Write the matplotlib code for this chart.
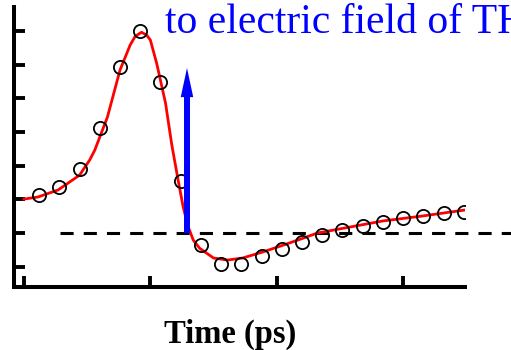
import numpy as np
import matplotlib
matplotlib.use("Agg")
from matplotlib import pyplot as plt

# measured points (time in ps, signal in arb. units)
t_data = [0.12, 0.28, 0.44, 0.60, 0.76, 0.92, 1.08, 1.24, 1.40, 1.56, 1.72,
          1.88, 2.04, 2.20, 2.36, 2.52, 2.68, 2.84, 3.00, 3.16, 3.32, 3.48]
s_data = [1.13, 1.36, 1.90, 3.12, 4.93, 6.00, 4.48, 1.54, -0.36, -0.92, -0.92,
          -0.68, -0.47, -0.27, -0.06, 0.09, 0.21, 0.33, 0.45, 0.50, 0.59, 0.62]

# fitted curve
t_fit = [0.00, 0.11, 0.27, 0.44, 0.52, 0.56, 0.66, 0.76, 0.84, 0.88, 0.93,
         0.97, 1.00, 1.05, 1.12, 1.17, 1.22, 1.26, 1.30, 1.34, 1.39, 1.50,
         1.61, 1.73, 1.89, 2.05, 2.21, 2.32, 2.58, 2.84, 3.14, 3.48]
s_fit = [1.01, 1.07, 1.28, 1.72, 2.17, 2.46, 3.44, 4.84, 5.58, 5.84, 5.96,
         5.88, 5.73, 5.04, 3.86, 2.61, 1.57, 0.77, 0.18, -0.21, -0.45, -0.74,
         -0.80, -0.74, -0.56, -0.36, -0.15, 0.00, 0.18, 0.36, 0.50, 0.68]

x_ticks = [0, 1, 2, 3]
y_ticks = [-1, 0, 1, 2, 3, 4, 5, 6]

arrow_t = 1.29
arrow_top = 4.9
zero_start = 0.285

fig = plt.figure(figsize=(5.11, 3.5), dpi=100)
ax = fig.add_axes([14 / 511, 63 / 350, 451 / 511, 280 / 350])

ax.plot(t_fit, s_fit, color="red", lw=2.0, zorder=3)
ax.plot(t_data, s_data, "o", mfc="none", mec="black", ms=9.5, mew=1.3, zorder=4)

# zero reference line, running past the right edge of the axes
ax.plot([zero_start, 3.86], [0, 0], color="black", lw=2.2, dashes=(4.3, 3.3),
        clip_on=False, zorder=2)

ax.annotate("", xy=(arrow_t, arrow_top), xytext=(arrow_t, 0),
            arrowprops=dict(width=4.3, headwidth=9, headlength=21, shrink=0,
                            color="blue", lw=0), zorder=5)

ax.set_xlim(-0.079, 3.49)
ax.set_ylim(-1.60, 6.71)
ax.set_xticks(x_ticks)
ax.set_yticks(y_ticks)
ax.set_xticklabels([])
ax.set_yticklabels([])
ax.tick_params(direction="in", length=8, width=2.8, color="black")
for side in ("top", "right"):
    ax.spines[side].set_visible(False)
for side in ("left", "bottom"):
    ax.spines[side].set_linewidth(2.9)

fig.text(165 / 511, 317 / 350, "to electric field of THz", color="blue",
         family="Liberation Serif", fontsize=30, va="baseline", ha="left")
fig.text(230 / 511, 7 / 350, "Time (ps)", family="Liberation Serif",
         fontweight="bold", fontsize=23.5, va="baseline", ha="center")

fig.savefig("out.png", dpi=100)
